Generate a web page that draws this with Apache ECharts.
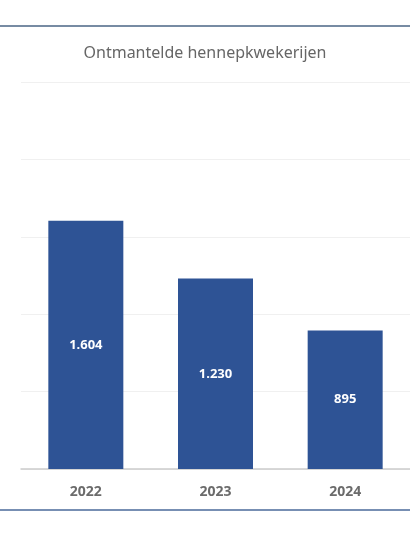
<!DOCTYPE html>
<html><head><meta charset="utf-8">
<script src="https://cdn.jsdelivr.net/npm/echarts@6/dist/echarts.min.js"></script>
<style>html,body{margin:0;padding:0;background:#fff}#c{width:410px;height:536px}</style>
</head><body><div id="c"></div>
<script>
const categories = ['2022','2023','2024'];
const values = [1604, 1230, 895];
const labels = ['1.604','1.230','895'];
const chart = echarts.init(document.getElementById('c'));
chart.setOption({
  animation:false,
  title:{text:'Ontmantelde hennepkwekerijen',left:'center',top:40,textStyle:{color:'#666',fontSize:16,fontWeight:'normal',fontFamily:'Noto Sans'}},
  graphic:[
    {type:'line',shape:{x1:0,y1:26,x2:410,y2:26},style:{stroke:'#4a6585',lineWidth:1.5}},
    {type:'line',shape:{x1:0,y1:510,x2:410,y2:510},style:{stroke:'#4a6a9a',lineWidth:1.5}}
  ],
  grid:{left:21,right:-19,top:82,bottom:67},
  xAxis:{type:'category',data:categories,axisTick:{show:false},
    axisLine:{lineStyle:{color:'#ccc',width:1.5}},
    axisLabel:{color:'#6b6b6b',fontSize:14,fontWeight:'bold',margin:16,fontFamily:'Noto Sans'}},
  yAxis:{type:'value',min:0,max:2500,interval:500,axisLabel:{show:false},
    splitLine:{lineStyle:{color:'#f0f0f0'}}},
  series:[{type:'bar',data:values,barWidth:75,itemStyle:{color:'#2e5395'},
    label:{show:true,position:'inside',color:'#fff',fontWeight:'bold',fontSize:13,fontFamily:'Noto Sans',
      formatter:p=>labels[p.dataIndex]}}]
});
</script></body></html>
